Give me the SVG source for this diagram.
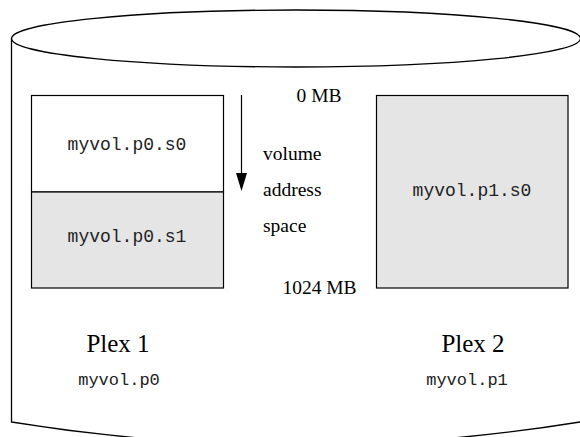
<svg xmlns="http://www.w3.org/2000/svg" width="580" height="437" viewBox="0 0 580 437">
<style>
.ln{fill:none;stroke:#000;stroke-width:1.3}
.box{stroke:#000;stroke-width:1.2}
.serif{font-family:"Liberation Serif","Times New Roman",serif;fill:#000}
.mono{font-family:"Liberation Mono","Courier New",monospace;fill:#222;font-size:18px;text-anchor:middle}
.sm{font-size:17px}
.lbl{font-size:19.5px}
.plex{font-size:25px;text-anchor:middle}
</style>
<rect width="580" height="437" fill="#fff"/>
<g id="cylinder">
<ellipse cx="296" cy="38.5" rx="284.5" ry="28.5" class="ln"/>
<path d="M11.5,38.5 V422 Q296,468 580,422" class="ln"/>
</g>
<g id="plex1">
<rect x="31.5" y="95.5" width="192" height="96.5" fill="#fff" class="box"/>
<rect x="31.5" y="192" width="192" height="96" fill="#e5e5e5" class="box"/>
<text x="127" y="150" class="mono">myvol.p0.s0</text>
<text x="127" y="242" class="mono">myvol.p0.s1</text>
<text x="118" y="352" class="serif plex">Plex 1</text>
<text x="119" y="385" class="mono sm">myvol.p0</text>
</g>
<g id="plex2">
<rect x="376.5" y="95.5" width="191.5" height="192.5" fill="#e5e5e5" class="box"/>
<text x="472" y="196" class="mono">myvol.p1.s0</text>
<text x="473" y="352" class="serif plex">Plex 2</text>
<text x="467" y="385" class="mono sm">myvol.p1</text>
</g>
<g id="address">
<text x="319" y="102" class="serif lbl" text-anchor="middle">0 MB</text>
<text x="263" y="160" class="serif lbl">volume</text>
<text x="263" y="196" class="serif lbl">address</text>
<text x="263" y="232" class="serif lbl">space</text>
<text x="319.5" y="294" class="serif lbl" text-anchor="middle">1024 MB</text>
</g>
<g id="connectors">
<line x1="241.5" y1="95" x2="241.5" y2="176" stroke="#000" stroke-width="1.2"/>
<polygon points="236,173 247,173 241.5,191" fill="#000"/>
</g>
</svg>
